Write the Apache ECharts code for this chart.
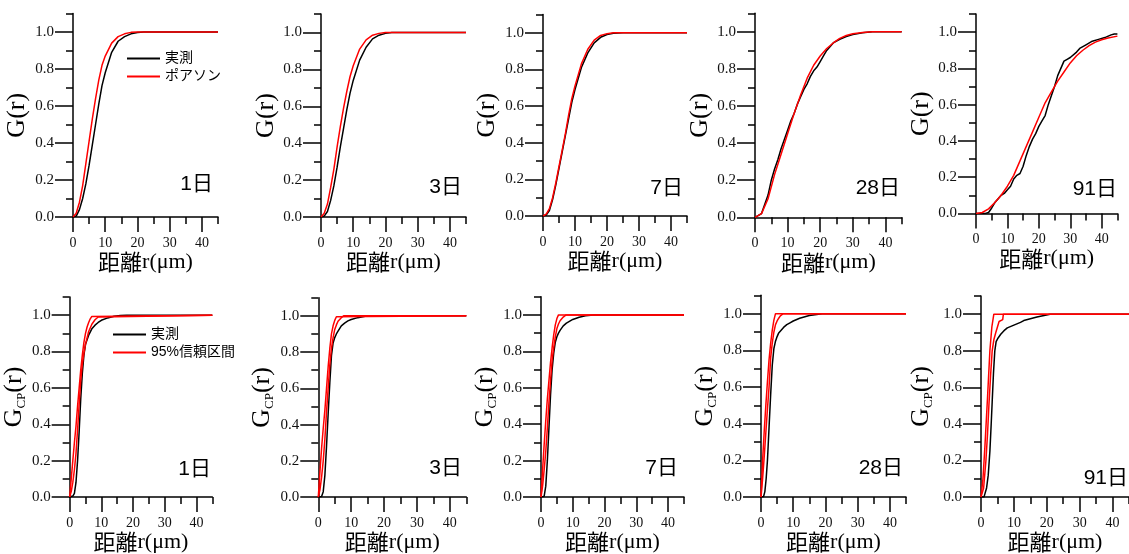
<!DOCTYPE html>
<html>
<head>
<meta charset="utf-8">
<script src="https://cdn.jsdelivr.net/npm/echarts@6/dist/echarts.min.js"></script>
<style>html,body{margin:0;padding:0;background:#fff}#c{width:1129px;height:554px}</style>
</head>
<body>
<div id="c"></div>
<script>
// ---- tick labels ----
const xTickLabels = [0, 10, 20, 30, 40];
const xMinorTicks = [5, 15, 25, 35, 45];
const yTickLabels = [0, 0.2, 0.4, 0.6, 0.8, 1.0];
const yMinorTicks = [0.1, 0.3, 0.5, 0.7, 0.9, 1.1];
const dayLabels = ['1日', '3日', '7日', '28日', '91日'];
const obsName = '実測';
const poiName = 'ポアソン';
const ciName = '95%信頼区間';

// ---- top row: G(r) observed / Poisson ----
const g1_obs = [[0,0],[1,0.005],[2,0.04],[3,0.10],[4,0.18],[5,0.28],[6,0.39],[7,0.50],[8,0.61],[9,0.71],[10,0.78],[12,0.89],[14,0.95],[16,0.975],[18,0.99],[20,0.997],[22,1],[45,1]];
const g1_poi = [[0,0],[1,0.02],[2,0.08],[3,0.17],[4,0.29],[5,0.41],[6,0.53],[7,0.64],[8,0.74],[9,0.82],[10,0.87],[12,0.94],[14,0.975],[16,0.99],[18,0.998],[20,1],[45,1]];
const g3_obs = [[0,0],[1,0.005],[2,0.03],[3,0.09],[4,0.17],[5,0.27],[6,0.38],[7,0.48],[8,0.58],[9,0.67],[10,0.74],[12,0.85],[14,0.92],[16,0.965],[18,0.985],[20,0.995],[22,1],[45,1]];
const g3_poi = [[0,0],[1,0.02],[2,0.07],[3,0.16],[4,0.26],[5,0.38],[6,0.49],[7,0.59],[8,0.68],[9,0.76],[10,0.82],[12,0.91],[14,0.96],[16,0.985],[18,0.995],[20,1],[45,1]];
const g7_obs = [[0,0],[1,0.005],[2,0.03],[3,0.09],[4,0.17],[5,0.26],[6,0.35],[7,0.44],[8,0.53],[9,0.62],[10,0.69],[12,0.81],[14,0.89],[16,0.945],[18,0.975],[20,0.99],[22,0.997],[25,1],[45,1]];
const g7_poi = [[0,0],[1,0.01],[2,0.04],[3,0.10],[4,0.18],[5,0.27],[6,0.36],[7,0.45],[8,0.55],[9,0.64],[10,0.71],[12,0.83],[14,0.91],[16,0.96],[18,0.985],[20,0.995],[22,1],[45,1]];
const g28_obs = [[0,0],[2,0.02],[4,0.12],[5,0.2],[6,0.26],[7,0.31],[8,0.37],[9,0.42],[10,0.47],[11,0.52],[12,0.56],[13,0.61],[14,0.65],[15,0.69],[16,0.72],[17,0.76],[18,0.79],[19,0.81],[20,0.84],[21,0.87],[22,0.90],[23,0.92],[24,0.94],[26,0.96],[28,0.975],[30,0.985],[33,0.995],[36,1],[45,1]];
const g28_poi = [[0,0],[2,0.02],[4,0.10],[6,0.23],[8,0.34],[10,0.45],[12,0.56],[14,0.66],[16,0.75],[18,0.82],[20,0.87],[22,0.91],[24,0.94],[26,0.965],[28,0.98],[30,0.99],[33,0.997],[36,1],[45,1]];
const g91_obs = [[0,0],[3,0],[4,0.005],[5,0.03],[6,0.06],[7,0.08],[8,0.10],[9,0.11],[10,0.13],[11,0.15],[12,0.19],[13,0.21],[14,0.22],[15,0.26],[16,0.32],[17,0.37],[18,0.41],[19,0.44],[20,0.48],[21,0.51],[22,0.54],[23,0.60],[24,0.65],[25,0.70],[26,0.76],[27,0.80],[28,0.84],[29,0.85],[30,0.86],[32,0.89],[33,0.91],[35,0.93],[37,0.95],[39,0.96],[41,0.97],[43,0.985],[44,0.99],[45,0.99]];
const g91_poi = [[0,0],[2,0.005],[4,0.025],[6,0.06],[8,0.10],[10,0.15],[12,0.21],[14,0.29],[16,0.37],[18,0.45],[20,0.53],[22,0.61],[24,0.67],[26,0.73],[28,0.78],[30,0.83],[32,0.87],[34,0.90],[36,0.925],[38,0.945],[40,0.958],[42,0.968],[45,0.978]];

// ---- bottom row: Gcp(r) observed / 95% envelope ----
const c1_obs = [[0,0],[1,0.005],[1.5,0.02],[2,0.08],[2.5,0.2],[3,0.36],[3.5,0.54],[4,0.68],[4.5,0.78],[5,0.84],[6,0.89],[7,0.925],[8,0.945],[9,0.96],[10,0.972],[12,0.985],[14,0.994],[16,0.998],[18,1],[45,1]];
const c1_up = [[0,0],[0.5,0.1],[1,0.2],[1.5,0.3],[2,0.39],[2.5,0.5],[3,0.6],[3.5,0.7],[4,0.78],[4.5,0.85],[5,0.9],[5.5,0.935],[6,0.96],[6.5,0.98],[7,0.993],[7.5,1],[45,1]];
const c1_lo = [[0,0],[0.5,0.03],[1,0.08],[1.5,0.15],[2,0.24],[2.5,0.37],[3,0.51],[3.5,0.64],[4,0.73],[4.5,0.79],[5,0.84],[6,0.91],[7,0.95],[8,0.975],[9,0.99],[9.6,1],[45,1]];
const c3_obs = [[0,0],[1,0.003],[1.5,0.03],[2,0.12],[2.5,0.28],[3,0.46],[3.5,0.63],[4,0.78],[4.5,0.85],[5,0.88],[5.5,0.9],[6,0.915],[7,0.945],[8,0.96],[9,0.972],[10,0.98],[12,0.99],[15,1],[45,1]];
const c3_up = [[0,0],[0.5,0.14],[1,0.27],[1.5,0.38],[2,0.48],[2.5,0.6],[3,0.72],[3.5,0.82],[4,0.9],[4.5,0.945],[5,0.975],[5.5,0.995],[5.8,1],[45,1]];
const c3_lo = [[0,0],[0.5,0.04],[1,0.11],[1.5,0.2],[2,0.32],[2.5,0.47],[3,0.6],[3.5,0.73],[4,0.82],[4.5,0.88],[5,0.925],[5.5,0.95],[6,0.97],[7,0.99],[7.7,1],[45,1]];
const c7_obs = [[0,0],[1,0.005],[1.5,0.06],[2,0.2],[2.5,0.38],[3,0.56],[3.5,0.7],[4,0.79],[4.5,0.85],[5,0.88],[5.5,0.9],[6,0.915],[7,0.94],[8,0.955],[10,0.975],[12,0.987],[14,0.995],[16.5,1],[45,1]];
const c7_up = [[0,0],[0.5,0.15],[1,0.29],[1.5,0.42],[2,0.54],[2.5,0.64],[3,0.74],[3.5,0.82],[4,0.89],[4.5,0.945],[5,0.98],[5.5,1],[45,1]];
const c7_lo = [[0,0],[0.5,0.06],[1,0.15],[1.5,0.25],[2,0.38],[2.5,0.52],[3,0.64],[3.5,0.75],[4,0.82],[4.5,0.88],[5,0.925],[5.5,0.95],[6,0.968],[7,0.988],[7.9,1],[45,1]];
const c28_obs = [[0,0],[0.8,0.003],[1.2,0.03],[1.6,0.1],[2,0.2],[2.5,0.38],[3,0.56],[3.5,0.72],[4,0.81],[4.5,0.85],[5,0.875],[5.5,0.895],[6,0.905],[7,0.925],[8,0.94],[9,0.95],[10,0.96],[12,0.975],[15,0.99],[19,1],[45,1]];
const c28_up = [[0,0],[0.5,0.2],[1,0.36],[1.5,0.5],[2,0.63],[2.5,0.75],[3,0.84],[3.5,0.91],[4,0.965],[4.5,1],[45,1]];
const c28_lo = [[0,0],[0.5,0.1],[1,0.22],[1.5,0.35],[2,0.48],[2.5,0.6],[3,0.76],[3.5,0.84],[4,0.9],[4.5,0.94],[5,0.96],[5.5,0.975],[6,0.988],[6.9,1],[45,1]];
const c91_obs = [[0,0],[0.9,0],[1.3,0.01],[1.7,0.05],[2.2,0.12],[2.7,0.25],[3.1,0.4],[3.4,0.52],[3.8,0.68],[4.2,0.8],[4.6,0.85],[5.2,0.87],[6,0.89],[7,0.91],[8,0.925],[10,0.94],[12,0.955],[13,0.965],[15,0.975],[17,0.985],[21,1],[45,1]];
const c91_up = [[0,0],[0.6,0.1],[1.2,0.28],[2,0.55],[2.7,0.8],[3.3,0.93],[3.9,1],[45,1]];
const c91_lo = [[0,0],[0.8,0.05],[1.5,0.2],[2,0.35],[2.4,0.5],[2.9,0.66],[3.4,0.8],[3.9,0.86],[4.5,0.9],[5,0.93],[5.5,0.96],[5.6,0.97],[6.6,0.97],[6.8,1],[45,1]];

const topObs = [g1_obs, g3_obs, g7_obs, g28_obs, g91_obs];
const topPoi = [g1_poi, g3_poi, g7_poi, g28_poi, g91_poi];
const botObs = [c1_obs, c3_obs, c7_obs, c28_obs, c91_obs];
const botUp = [c1_up, c3_up, c7_up, c28_up, c91_up];
const botLo = [c1_lo, c3_lo, c7_lo, c28_lo, c91_lo];

// ---- layout (pixels) ----
const layout = [
  {left:73, top:13.5, width:145, height:203.5, yGap:43, xGap:29, lx:213, ly:184},
  {left:321, top:14, width:145, height:203, yGap:41, xGap:29, lx:462, ly:187},
  {left:543, top:14.4, width:144, height:201.6, yGap:43, xGap:29, lx:683, ly:188},
  {left:755, top:13.3, width:146.7, height:204, yGap:38, xGap:29, lx:900, ly:188},
  {left:976, top:14, width:141.4, height:199.4, yGap:42, xGap:33, lx:1117, ly:189},
  {left:69.3, top:297, width:143, height:200.2, yGap:41, xGap:34, lx:211, ly:469},
  {left:318.3, top:297.7, width:148, height:201.3, yGap:42, xGap:29, lx:462, ly:468},
  {left:541, top:296.7, width:143, height:201, yGap:41, xGap:33, lx:678, ly:468},
  {left:761, top:295.3, width:145, height:202, yGap:41, xGap:32, lx:903, ly:468},
  {left:981, top:295.9, width:148.8, height:206.8, yGap:46, xGap:31, lx:1128, ly:478}
];

const SERIF = "'Liberation Serif','Times New Roman',serif";
const SANS = "'Liberation Sans','Noto Sans CJK JP',sans-serif";
const CJK = "'Noto Sans CJK JP',sans-serif";
const axisLineStyle = {color:'#000', width:1.5};

const grid = [], xAxis = [], yAxis = [], series = [], graphic = [];
layout.forEach((L, i) => {
  const bottom = i >= 5;
  grid.push({left:L.left, top:L.top, width:L.width, height:L.height, containLabel:false});
  xAxis.push({
    gridIndex:i, type:'value', min:0, max:45, position:'bottom',
    axisLine:{show:true, onZero:false, lineStyle:axisLineStyle},
    axisTick:{show:true, customValues:xTickLabels, length:15, lineStyle:axisLineStyle},
    axisLabel:{customValues:xTickLabels, margin:19, fontFamily:SERIF, fontSize:14, color:'#111'},
    splitLine:{show:false},
    name:'{a|距離}{b|r(μm)}', nameLocation:'middle', nameGap:L.xGap,
    nameTextStyle:{rich:{a:{fontFamily:CJK, fontSize:22, color:'#000'}, b:{fontFamily:SERIF, fontSize:22, color:'#000'}}}
  });
  xAxis.push({
    gridIndex:i, type:'value', min:0, max:45, position:'bottom',
    axisLine:{show:false},
    axisTick:{show:true, customValues:xMinorTicks, length:7, lineStyle:axisLineStyle},
    axisLabel:{show:false}, splitLine:{show:false}
  });
  yAxis.push({
    gridIndex:i, type:'value', min:0, max:1.1, position:'left',
    axisLine:{show:true, onZero:false, lineStyle:axisLineStyle},
    axisTick:{show:true, customValues:yTickLabels, length:18, lineStyle:axisLineStyle},
    axisLabel:{customValues:yTickLabels, margin:19, fontFamily:SERIF, fontSize:15, color:'#111',
      formatter:v => Number(v).toFixed(1)},
    splitLine:{show:false},
    name: bottom ? '{g|G}{s|CP}{g|(r)}' : 'G(r)',
    nameLocation:'middle', nameGap:L.yGap,
    nameTextStyle: bottom
      ? {rich:{g:{fontFamily:SERIF, fontSize:26, lineHeight:28, color:'#000'}, s:{fontFamily:SERIF, fontSize:13, lineHeight:13, verticalAlign:'bottom', color:'#000'}}}
      : {fontFamily:SERIF, fontSize:26, color:'#000'}
  });
  yAxis.push({
    gridIndex:i, type:'value', min:0, max:1.1, position:'left',
    axisLine:{show:false},
    axisTick:{show:true, customValues:yMinorTicks, length:7, lineStyle:axisLineStyle},
    axisLabel:{show:false}, splitLine:{show:false}
  });
  const xi = 2*i, yi = 2*i;
  const k = i % 5;
  const line = (name, data, color) => ({
    name, type:'line', data, xAxisIndex:xi, yAxisIndex:yi, symbol:'none', smooth:false,
    lineStyle:{color, width:1.5}, itemStyle:{color}, silent:true, animation:false
  });
  if (!bottom) {
    series.push(line(obsName, topObs[k], '#000'));
    series.push(line(poiName, topPoi[k], '#ff0000'));
  } else {
    series.push(line(obsName, botObs[k], '#000'));
    series.push(line(ciName, botUp[k], '#ff0000'));
    series.push(line(ciName, botLo[k], '#ff0000'));
  }
  graphic.push({type:'text', x:L.lx, y:L.ly, style:{text:dayLabels[k], fill:'#000', font:"21px " + SANS, align:'right', verticalAlign:'middle'}});
});

const legendCommon = {orient:'vertical', icon:'rect', itemWidth:33, itemHeight:2, itemGap:4,
  textStyle:{fontFamily:SANS, fontSize:14, lineHeight:14, color:'#000'}, selectedMode:false, padding:0};
const legend = [
  Object.assign({data:[obsName, poiName], left:127, top:51.5}, legendCommon),
  Object.assign({data:[obsName, ciName], left:113, top:327.5}, legendCommon)
];

const chart = echarts.init(document.getElementById('c'), null, {renderer:'canvas'});
chart.setOption({backgroundColor:'#fff', animation:false, grid, xAxis, yAxis, series, legend, graphic});
</script>
</body>
</html>
